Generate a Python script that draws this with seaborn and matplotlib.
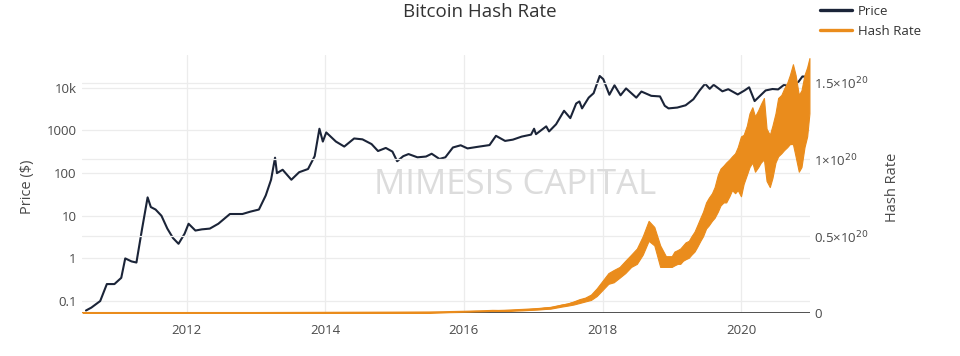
import numpy as np
import pandas as pd
import seaborn as sns
import matplotlib.pyplot as plt
import matplotlib.ticker as mticker
from matplotlib.lines import Line2D

# price (USD)
price_dates = ["2010-07-18", "2010-08-15", "2010-10-01", "2010-11-05", "2010-12-15", "2011-01-20",
               "2011-02-10", "2011-03-15", "2011-04-10", "2011-05-10", "2011-06-08", "2011-06-25",
               "2011-07-20", "2011-08-20", "2011-09-20", "2011-10-20", "2011-11-18", "2011-12-20",
               "2012-01-10", "2012-02-15", "2012-03-20", "2012-05-01", "2012-06-15", "2012-08-15",
               "2012-09-15", "2012-10-20", "2012-12-01", "2013-01-15", "2013-02-20", "2013-03-20",
               "2013-04-10", "2013-04-20", "2013-05-20", "2013-07-05", "2013-08-15", "2013-10-01",
               "2013-11-05", "2013-11-30", "2013-12-18", "2014-01-05", "2014-02-25", "2014-04-10",
               "2014-06-01", "2014-07-15", "2014-09-01", "2014-10-05", "2014-11-15", "2014-12-20",
               "2015-01-14", "2015-02-15", "2015-03-15", "2015-05-01", "2015-06-15", "2015-07-15",
               "2015-08-25", "2015-09-25", "2015-11-04", "2015-12-15", "2016-01-20", "2016-03-15",
               "2016-05-15", "2016-06-18", "2016-08-05", "2016-09-15", "2016-11-01", "2016-12-20",
               "2017-01-05", "2017-01-15", "2017-03-10", "2017-03-25", "2017-05-01", "2017-06-12",
               "2017-07-15", "2017-08-15", "2017-09-01", "2017-09-15", "2017-10-20", "2017-11-15",
               "2017-12-17", "2018-01-05", "2018-02-06", "2018-03-05", "2018-04-06", "2018-05-05",
               "2018-06-28", "2018-07-25", "2018-09-15", "2018-10-31", "2018-11-25", "2018-12-15",
               "2019-01-30", "2019-03-15", "2019-04-25", "2019-05-28", "2019-06-26", "2019-07-20",
               "2019-08-10", "2019-09-25", "2019-10-26", "2019-12-15", "2020-01-20", "2020-02-13",
               "2020-03-13", "2020-04-15", "2020-05-10", "2020-06-15", "2020-07-15", "2020-08-15",
               "2020-09-15", "2020-10-20", "2020-11-20", "2020-12-10", "2020-12-20", "2020-12-28"]
price_usd = [0.06, 0.07, 0.1, 0.25, 0.25, 0.35,
             1.0, 0.85, 0.8, 5, 27, 16,
             14, 10, 5, 3, 2.2, 3.8,
             6.5, 4.5, 4.8, 5, 6.5, 11,
             11, 11, 12.5, 14, 30, 70,
             230, 100, 120, 70, 105, 125,
             250, 1100, 550, 900, 550, 420,
             650, 620, 480, 330, 390, 320,
             190, 250, 280, 235, 245, 285,
             215, 235, 400, 450, 380, 415,
             455, 750, 570, 610, 720, 800,
             1100, 820, 1250, 950, 1400, 2900,
             1950, 4300, 4800, 3300, 5900, 7500,
             19000, 16000, 6900, 11500, 6700, 9700,
             5900, 8200, 6500, 6300, 3800, 3300,
             3450, 3900, 5400, 8700, 12500, 9500,
             11800, 8300, 9300, 7000, 8700, 10300,
             4900, 6800, 8700, 9400, 9200, 11800,
             10700, 12000, 18500, 18300, 23500, 34000]

# hash rate band (units of 1e20 H/s), low / high envelope
hash_dates = ["2010-07-01", "2013-01-01", "2015-01-01", "2015-07-01",
              "2016-01-01", "2016-02-01", "2016-03-01", "2016-04-01", "2016-05-01", "2016-06-01",
              "2016-07-01", "2016-08-01", "2016-09-01", "2016-10-01", "2016-11-01", "2016-12-01",
              "2017-01-01", "2017-02-01", "2017-03-01", "2017-04-01", "2017-05-01", "2017-06-01",
              "2017-07-01", "2017-08-01", "2017-09-01", "2017-10-01", "2017-11-01", "2017-12-01",
              "2018-01-01", "2018-02-01", "2018-03-01", "2018-04-01", "2018-05-01", "2018-06-01",
              "2018-07-01", "2018-08-01", "2018-09-01", "2018-10-01", "2018-11-01", "2018-12-01",
              "2019-01-01", "2019-01-15", "2019-02-01", "2019-02-15", "2019-03-01", "2019-03-15",
              "2019-04-01", "2019-04-15", "2019-05-01", "2019-05-15", "2019-06-01", "2019-06-15",
              "2019-07-01", "2019-07-15", "2019-08-01", "2019-08-15", "2019-09-01", "2019-09-15",
              "2019-10-01", "2019-10-15", "2019-11-01", "2019-11-15", "2019-12-01", "2019-12-15",
              "2020-01-01", "2020-01-15", "2020-02-01", "2020-02-15", "2020-03-01", "2020-03-15",
              "2020-04-01", "2020-04-15", "2020-05-01", "2020-05-15", "2020-06-01", "2020-06-15",
              "2020-07-01", "2020-07-15", "2020-08-01", "2020-08-15", "2020-09-01", "2020-09-15",
              "2020-10-01", "2020-10-15", "2020-11-01", "2020-11-15", "2020-12-01", "2020-12-15",
              "2020-12-27"]
hash_low = [0, 0, 0.002, 0.003,
            .007, .008, .009, .010, .011, .012, .011, .012, .014, .016, .017, .019,
            .021, .023, .026, .028, .035, .042, .048, .055, .065, .075, .085, .11,
            .15, .19, .20, .23, .26, .30, .32, .38, .47, .44, .30, .30,
            .30, .31, .32, .32, .34, .35, .36, .38, .40, .43, .47, .50,
            .55, .57, .60, .62, .66, .70, .72, .72, .76, .80, .78, .80,
            .76, .84, .90, .95, .98, .92, .95, .98, 1.0, .86, .82, .88,
            .98, 1.02, 1.04, 1.06, 1.08, 1.1, 1.1, 1.02, .92, .95, 1.08, 1.15,
            1.3]
hash_high = [0, 0, 0.003, 0.004,
             .009, .010, .012, .013, .014, .016, .016, .017, .019, .021, .023, .025,
             .028, .030, .035, .038, .046, .055, .062, .075, .09, .10, .12, .16,
             .21, .26, .28, .30, .34, .38, .42, .50, .60, .56, .44, .37,
             .37, .40, .41, .42, .44, .46, .47, .50, .53, .57, .62, .66,
             .72, .75, .78, .82, .90, .94, .96, .98, 1.0, 1.02, 1.04, 1.08,
             1.15, 1.16, 1.22, 1.3, 1.34, 1.28, 1.32, 1.36, 1.4, 1.2, 1.16, 1.22,
             1.3, 1.4, 1.42, 1.46, 1.5, 1.55, 1.62, 1.55, 1.42, 1.45, 1.55, 1.6,
             1.66]

price_ticks = [0.1, 1, 10, 100, 1000, 10000]
price_tick_labels = ["0.1", "1", "10", "100", "1000", "10k"]
year_ticks = ["2012-01-01", "2014-01-01", "2016-01-01", "2018-01-01", "2020-01-01"]
year_labels = ["2012", "2014", "2016", "2018", "2020"]
hash_ticks = [0, 0.5, 1.0, 1.5]
hash_tick_labels = ["0", r"0.5×10$^{20}$", r"1×10$^{20}$", r"1.5×10$^{20}$"]

price_df = pd.DataFrame({"date": pd.to_datetime(price_dates), "price": price_usd})
hash_df = pd.DataFrame({"date": pd.to_datetime(hash_dates), "low": hash_low, "high": hash_high})
hash_df["mid"] = (hash_df["low"] + hash_df["high"]) / 2

NAVY = "#1b2438"
ORANGE = "#ea8c1c"
GRID = "#ececec"
TXT = "#4a4a4a"

sns.set_theme(style="white")
plt.rcParams['font.family'] = ['Open Sans', 'DejaVu Sans']

fig = plt.figure(figsize=(9.6, 3.56), dpi=100)
ax = fig.add_axes([82 / 960, 43 / 356, 728 / 960, 258 / 356])
ax2 = ax.twinx()

# price on the log axis
sns.lineplot(data=price_df, x="date", y="price", ax=ax, color=NAVY, linewidth=1.5)
ax.set_yscale("log")
ax.set_ylim(0.0524, 59000)
ax.set_xlim(pd.Timestamp("2010-06-27"), pd.Timestamp("2020-12-30"))
ax.set_xticks(pd.to_datetime(year_ticks))
ax.set_xticklabels(year_labels)
ax.yaxis.set_major_locator(mticker.FixedLocator(price_ticks))
ax.yaxis.set_major_formatter(mticker.FixedFormatter(price_tick_labels))
ax.yaxis.set_minor_locator(mticker.NullLocator())
ax.grid(True, color=GRID, linewidth=0.9)
ax.set_xlabel("")
ax.set_ylabel("")

# hash rate band on the right axis
ax2.fill_between(hash_df["date"], hash_df["low"], hash_df["high"], color=ORANGE, linewidth=0.8, edgecolor=ORANGE)
sns.lineplot(data=hash_df, x="date", y="mid", ax=ax2, color=ORANGE, linewidth=1.5)
ax2.set_ylim(0, 1.68)
ax2.yaxis.set_major_locator(mticker.FixedLocator(hash_ticks))
ax2.yaxis.set_major_formatter(mticker.FixedFormatter(hash_tick_labels))
ax2.grid(True, axis="y", color=GRID, linewidth=0.9)
ax2.set_axisbelow(True)
ax2.axhline(0, color="#444444", linewidth=1.3, zorder=1)
ax2.set_ylabel("")

for a in (ax, ax2):
    for s in a.spines.values():
        s.set_visible(False)
    a.tick_params(length=0, labelsize=9.5, labelcolor=TXT, pad=4)
ax.tick_params(axis="x", pad=8)
ax2.tick_params(axis="y", pad=3)

# watermark
fig.text(515 / 960, 1 - 185 / 356, "MIMESIS CAPITAL", fontsize=25, color="#dcdcdc",
         ha="center", va="center", zorder=0)

fig.text(480 / 960, 1 - 3 / 356, "Bitcoin Hash Rate", fontsize=13.5, color="#333333",
         ha="center", va="top")
fig.text(28 / 960, 1 - 187 / 356, "Price ($)", rotation=90, fontsize=10.5, color=TXT,
         ha="center", va="center")
fig.text(893 / 960, 1 - 187 / 356, "Hash Rate", rotation=90, fontsize=10.5, color=TXT,
         ha="center", va="center")

handles = [Line2D([0], [0], color=NAVY, lw=2.4), Line2D([0], [0], color=ORANGE, lw=2.4)]
fig.legend(handles, ["Price", "Hash Rate"], loc="upper left", bbox_to_anchor=(808 / 960, 1.02),
           frameon=False, fontsize=9.5, handlelength=2.4, handletextpad=0.5, labelspacing=0.55,
           labelcolor="#333333")

fig.savefig("out.png", dpi=100)
